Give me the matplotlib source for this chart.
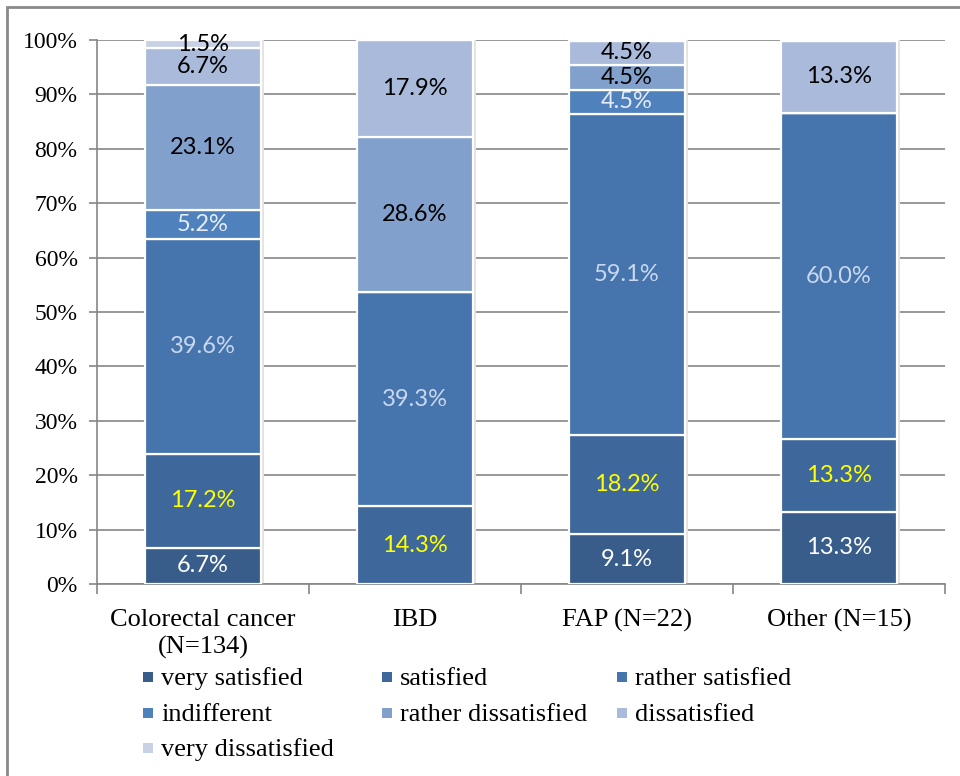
import matplotlib
matplotlib.use("Agg")
from matplotlib import pyplot
from matplotlib.patches import Rectangle
import numpy as np

groups = ['Colorectal cancer\n(N=134)', 'IBD', 'FAP (N=22)', 'Other (N=15)']
answers = ['very satisfied', 'satisfied', 'rather satisfied', 'indifferent',
           'rather dissatisfied', 'dissatisfied', 'very dissatisfied']

# percentages per answer, one value per group
very_satisfied = [6.7, 0.0, 9.1, 13.3]
satisfied = [17.2, 14.3, 18.2, 13.3]
rather_satisfied = [39.6, 39.3, 59.1, 60.0]
indifferent = [5.2, 0.0, 4.5, 0.0]
rather_dissatisfied = [23.1, 28.6, 4.5, 0.0]
dissatisfied = [6.7, 17.9, 4.5, 13.3]
very_dissatisfied = [1.5, 0.0, 0.0, 0.0]

series = [very_satisfied, satisfied, rather_satisfied, indifferent,
          rather_dissatisfied, dissatisfied, very_dissatisfied]
colors = ['#385d8a', '#3e679b', '#4675ad', '#4f81bd', '#82a0cc', '#a9badb', '#c8d2e6']
label_colors = ['white', '#ffff00', '#c9d8ee', '#e4ecf7', 'black', 'black', 'black']

W, H = 960, 776
fig = pyplot.figure(figsize=(W / 100, H / 100), dpi=100)
ax = fig.add_axes([97 / W, 1 - 584 / H, 848 / W, 544 / H])

x = np.arange(len(groups))
width = 0.55
bottom = np.zeros(len(groups))
for vals, col, lcol, name in zip(series, colors, label_colors, answers):
    vals = np.array(vals)
    top = np.minimum(bottom + vals, 100)
    ax.bar(x, top - bottom, width, bottom=bottom, color=col, edgecolor='white',
           linewidth=1.6, label=name, zorder=3)
    for i, v in enumerate(vals):
        if v > 0:
            ax.text(x[i], bottom[i] + (top[i] - bottom[i]) / 2, f'{v:.1f}%',
                    ha='center', va='center', color=lcol, fontsize=17,
                    family='Lato', zorder=4)
    bottom = bottom + vals

# soft shadow on the right of each bar
for xi in x:
    ax.add_patch(Rectangle((xi + width / 2, 0), 0.012, 100, color='#e3e3e3',
                           zorder=2, linewidth=0))

ax.set_xlim(-0.5, 3.5)
ax.set_ylim(0, 100)
ax.set_yticks(np.arange(0, 101, 10))
ax.set_yticklabels([f'{v}%' for v in range(0, 101, 10)], family='Liberation Serif', fontsize=17)
ax.yaxis.grid(True, color='#868686', linewidth=1.2, zorder=0)
ax.set_axisbelow(True)
ax.set_xticks(x)
ax.set_xticklabels(groups, family='Liberation Serif', fontsize=19, linespacing=1.25)
ax.tick_params(axis='x', length=0, pad=18)
ax.set_xticks(np.arange(-0.5, 3.6, 1), minor=True)
ax.tick_params(axis='x', which='minor', length=7, color='#868686', width=1.2)
ax.tick_params(axis='y', length=6, color='#868686', width=1.2, pad=8)
for s in ['top', 'right']:
    ax.spines[s].set_visible(False)
for s in ['left', 'bottom']:
    ax.spines[s].set_color('#868686')
    ax.spines[s].set_linewidth(1.2)

# legend laid out row by row, three per row
col_x = [143, 382, 617]
row_y = [678, 714, 749]
for k, (name, col) in enumerate(zip(answers, colors)):
    px, py = col_x[k % 3], row_y[k // 3]
    fig.add_artist(Rectangle((px / W, 1 - (py + 4) / H), 10 / W, 10 / H,
                             transform=fig.transFigure, facecolor=col, edgecolor='none'))
    fig.text((px + 18) / W, 1 - (py + 1) / H, name, family='Liberation Serif', fontsize=19,
             va='center', ha='left')

# outer frame of the figure
fig.add_artist(Rectangle((7 / W, -0.1), 1.2, 1 - 7 / H + 0.1, transform=fig.transFigure,
                         fill=False, edgecolor='#8a8a8a', linewidth=2))

fig.savefig('out.png', dpi=100)
